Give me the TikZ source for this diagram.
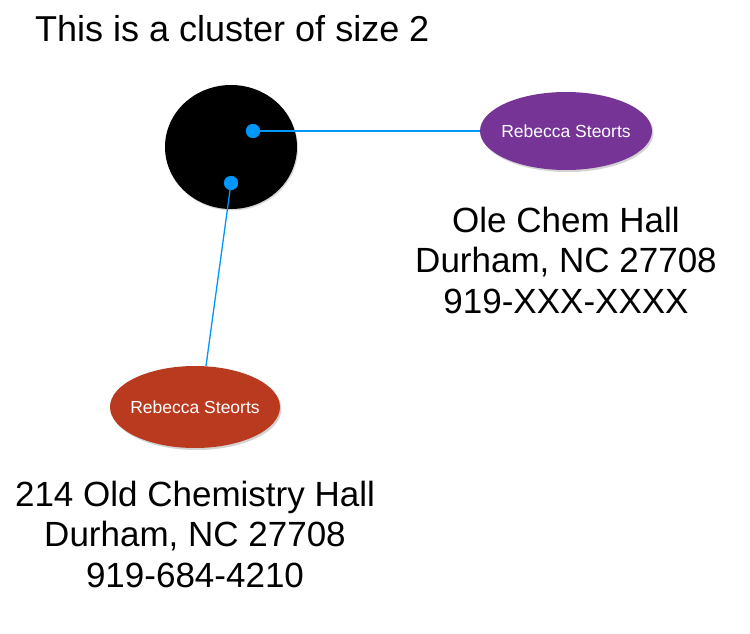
\documentclass[tikz,border=0pt]{standalone}
\usepackage{fontspec}
\setmainfont{Liberation Sans}
\usetikzlibrary{shapes.geometric,shadows}
\definecolor{dotblue}{RGB}{0,150,250}
\definecolor{purp}{RGB}{118,52,150}
\definecolor{rust}{RGB}{186,58,32}
\tikzset{
  rec/.style={ellipse, inner sep=0pt, minimum width=#1, text=white, font=\fontsize{17.5}{20}\selectfont,
    drop shadow={shadow xshift=1.5pt, shadow yshift=-2pt, opacity=0.35}},
  dot/.style={circle, fill=dotblue, inner sep=0pt, minimum size=14pt},
  link/.style={draw=dotblue, line width=1.3pt},
  addr/.style={align=center, font=\fontsize{35}{40.5}\selectfont, anchor=base, inner sep=0pt},
  title/.style={font=\fontsize{36}{40}\selectfont, anchor=base west, inner sep=0pt}
}
\begin{document}
\begin{tikzpicture}[x=1pt,y=-1pt]
\useasboundingbox (0,0) rectangle (750,634);
\node[title] (t) at (35,42) {This is a cluster of size 2};
\node[ellipse, fill=black, minimum width=132pt, minimum height=124pt, inner sep=0pt,
  drop shadow={shadow xshift=1pt, shadow yshift=-1.5pt, opacity=0.3}] (c) at (231,147) {};
\node[rec=172pt, minimum height=78pt, fill=purp] (p) at (566,131) {\makebox[0pt]{Rebecca Steorts}};
\node[rec=170pt, minimum height=82pt, fill=rust] (r) at (195,407) {\makebox[0pt]{Rebecca Steorts}};
\node[dot] (d1) at (253,131) {};
\node[dot] (d2) at (231,183) {};
\coordinate (re) at (206,366);
\draw[link] (d1.center) -- (p.west);
\draw[link] (d2.center) -- (re);
\node[dot] at (d1) {};
\node[dot] at (d2) {};
\node[addr] (a1) at (566,313) {Ole Chem Hall\\Durham, NC 27708\\919-XXX-XXXX};
\node[addr] (a2) at (195,587) {214 Old Chemistry Hall\\Durham, NC 27708\\919-684-4210};
\end{tikzpicture}
\end{document}
